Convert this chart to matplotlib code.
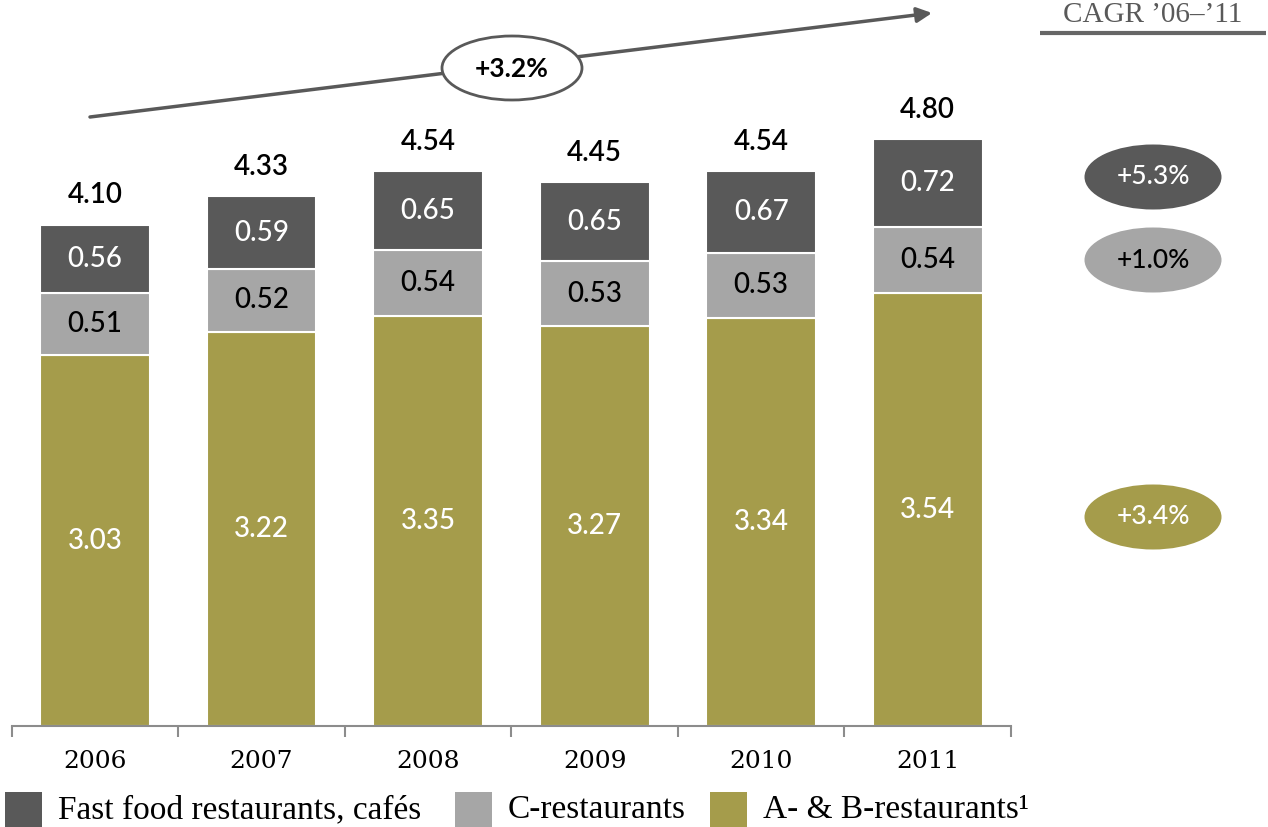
import matplotlib.pyplot as plt
from matplotlib.patches import Ellipse, Rectangle

# Restaurant sales by segment, 2006-2011
years = ['2006', '2007', '2008', '2009', '2010', '2011']
ab_rest = [3.03, 3.22, 3.35, 3.27, 3.34, 3.54]
c_rest = [0.51, 0.52, 0.54, 0.53, 0.53, 0.54]
fast_food = [0.56, 0.59, 0.65, 0.65, 0.67, 0.72]
totals = [4.10, 4.33, 4.54, 4.45, 4.54, 4.80]

series_names = ['Fast food restaurants, cafés', 'C-restaurants', 'A- & B-restaurants\u00b9']
cagr_total = '+3.2%'
cagr_segments = ['+5.3%', '+1.0%', '+3.4%']

DARK = '#595959'
LIGHT = '#a6a6a6'
OLIVE = '#a59c4b'
SANS = ['Lato', 'DejaVu Sans']
SERIF = ['DejaVu Serif']
SERIF_NARROW = ['Liberation Serif', 'DejaVu Serif']

W, H = 1268, 827
fig = plt.figure(figsize=(W / 100, H / 100), dpi=100)

ax = fig.add_axes([11.7 / W, 101 / H, (1011 - 11.7) / W, 726 / H])
x = list(range(len(years)))
bw = 0.66
b1 = ax.bar(x, ab_rest, bw, color=OLIVE, edgecolor='white', linewidth=1.5)
b2 = ax.bar(x, c_rest, bw, bottom=ab_rest, color=LIGHT, edgecolor='white', linewidth=1.5)
bottom3 = [a + c for a, c in zip(ab_rest, c_rest)]
b3 = ax.bar(x, fast_food, bw, bottom=bottom3, color=DARK, edgecolor='white', linewidth=1.5)

lbl = dict(label_type='center', fontsize=20, family=SANS, fontweight='medium')
ax.bar_label(b1, labels=[f'{v:.2f}' for v in ab_rest], color='white', **lbl)
ax.bar_label(b2, labels=[f'{v:.2f}' for v in c_rest], color='black', **lbl)
ax.bar_label(b3, labels=[f'{v:.2f}' for v in fast_food], color='white', **lbl)
for xi, t, base, ff in zip(x, totals, bottom3, fast_food):
    ax.annotate(f'{t:.2f}', (xi, base + ff), xytext=(0, 21), textcoords='offset points',
                ha='center', va='center', fontsize=20, family=SANS, fontweight='semibold',
                color='black')

ax.set_xlim(-0.5, 5.5)
ax.set_ylim(0, 726 / 122.3)
for s in ['top', 'right', 'left']:
    ax.spines[s].set_visible(False)
ax.spines['bottom'].set_color('#8c8c8c')
ax.spines['bottom'].set_linewidth(1.5)
ax.set_yticks([])
ax.set_xticks(x)
ax.set_xticklabels(years, family=SERIF, fontsize=18)
ax.tick_params(axis='x', which='major', length=0, pad=17)
ax.set_xticks([i - 0.5 for i in range(len(years) + 1)], minor=True)
ax.tick_params(axis='x', which='minor', length=8, width=1.5, color='#8c8c8c', direction='out')

# overlay in pixel units for arrow, bubbles and legend
ov = fig.add_axes([0, 0, 1, 1], facecolor='none')
ov.set_xlim(0, W)
ov.set_ylim(H, 0)
ov.axis('off')

# overall growth arrow with CAGR bubble
ov.annotate('', xy=(932, 13), xytext=(90, 117),
            arrowprops=dict(arrowstyle='-|>,head_length=0.9,head_width=0.45',
                            color='#595959', lw=2.5, shrinkA=0, shrinkB=0), zorder=2)
ov.add_patch(Ellipse((512, 68), 140, 64, facecolor='white', edgecolor='#595959', lw=2, zorder=5))
ov.text(512, 69, cagr_total, ha='center', va='center', fontsize=19,
        family=SANS, fontweight='bold', color='black', zorder=6)

# segment CAGR column
ov.text(1153, 22, 'CAGR \u201906\u2013\u201911', ha='center', va='baseline',
        fontsize=21, family=SERIF_NARROW, color='#595959')
ov.plot([1040, 1266], [33, 33], color='#666666', lw=3, solid_capstyle='butt')
for (cy, fc, tc), label in zip([(177, DARK, 'white'), (260, LIGHT, 'black'), (517, OLIVE, 'white')],
                               cagr_segments):
    ov.add_patch(Ellipse((1153, cy), 137, 65, facecolor=fc, edgecolor='none'))
    ov.text(1153, cy, label, ha='center', va='center', fontsize=19, family=SANS,
            fontweight='medium', color=tc)

# legend
for (sx, tx), fc, name in zip([(5, 58), (455, 508), (710, 763)], [DARK, LIGHT, OLIVE], series_names):
    ov.add_patch(Rectangle((sx, 792), 37, 35, facecolor=fc, edgecolor='none'))
    ov.text(tx, 810, name, ha='left', va='center', fontsize=24, family=SERIF_NARROW, color='black')

fig.savefig('out.png', dpi=100)
